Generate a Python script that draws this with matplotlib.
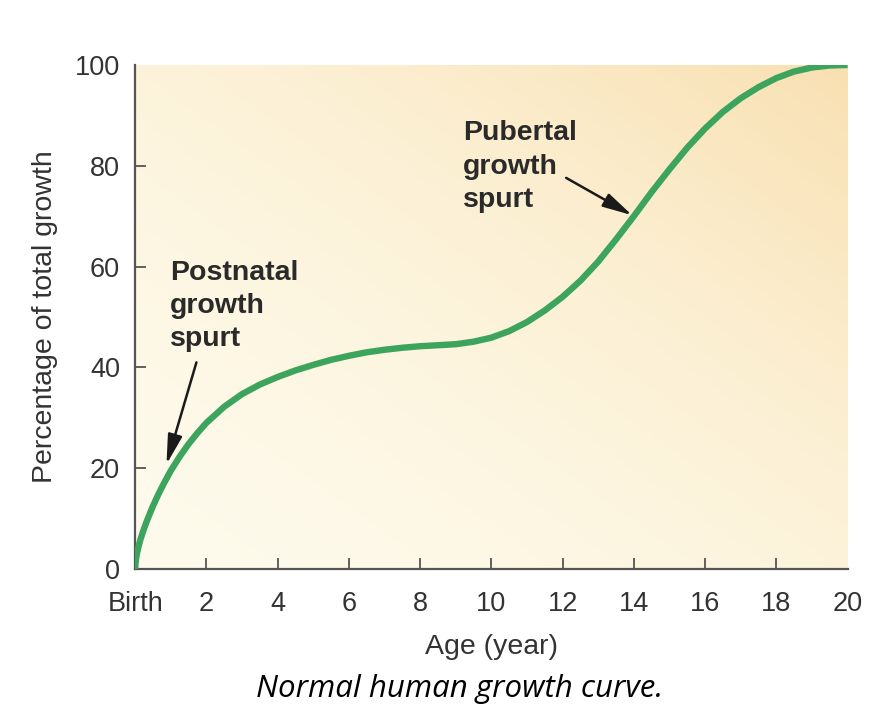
import numpy as np
import matplotlib.pyplot as plt
from matplotlib.colors import LinearSegmentedColormap

# Curve values (age in years, percent of total growth)
age = [0, 0.01, 0.03, 0.06, 0.1, 0.15, 0.2, 0.3, 0.4, 0.5, 0.65, 0.8, 1.0,
       1.25, 1.5, 1.75, 2.0, 2.5, 3.0, 3.5, 4.0, 4.5, 5.0, 5.5, 6.0, 6.5,
       7.0, 7.5, 8.0, 8.5, 9.0, 9.5, 10.0, 10.5, 11.0, 11.5, 12.0, 12.5,
       13.0, 13.5, 14.0, 14.5, 15.0, 15.5, 16.0, 16.5, 17.0, 17.5, 18.0,
       18.5, 19.0, 19.5, 20.0]
growth = [0, 1.2, 2.3, 3.4, 4.6, 5.9, 7.0, 9.0, 10.8, 12.5, 14.8, 16.9, 19.5,
          22.3, 24.8, 27.0, 29.0, 32.2, 34.7, 36.6, 38.1, 39.4, 40.5, 41.5,
          42.3, 43.0, 43.5, 43.9, 44.2, 44.4, 44.6, 45.1, 45.9, 47.2, 49.0,
          51.3, 54.0, 57.2, 61.0, 65.4, 70.0, 74.8, 79.3, 83.6, 87.4, 90.7,
          93.4, 95.6, 97.4, 98.7, 99.5, 99.9, 100]

xticks = [0, 2, 4, 6, 8, 10, 12, 14, 16, 18, 20]
xtick_labels = ['Birth', '2', '4', '6', '8', '10', '12', '14', '16', '18', '20']
yticks = [0, 20, 40, 60, 80, 100]

plt.rcParams['font.family'] = ['Liberation Sans', 'DejaVu Sans']

fig = plt.figure(figsize=(8.72, 7.18), dpi=100)
ax = fig.add_axes([0.155, 0.2075, 0.817, 0.702])

# diagonal cream-to-tan background
cmap = LinearSegmentedColormap.from_list('bg', ['#fefbed', '#fcf1d6', '#f9e0b2'])
u = np.linspace(0, 1, 300)
U, V = np.meshgrid(u, u)
grad = np.clip(((U + V) / 2) ** 1.3, 0, 1)
ax.imshow(grad, cmap=cmap, extent=[0, 20, 0, 100], origin='lower',
          aspect='auto', zorder=0, vmin=0, vmax=1)

ax.plot(age, growth, color='#3ca45c', lw=4.6, solid_capstyle='butt',
        solid_joinstyle='round', zorder=3)

ax.set_xlim(0, 20)
ax.set_ylim(0, 100)
ax.set_xticks(xticks)
ax.set_xticklabels(xtick_labels)
ax.set_yticks(yticks)

for s in ['top', 'right']:
    ax.spines[s].set_visible(False)
for s in ['left', 'bottom']:
    ax.spines[s].set_color('#555555')
    ax.spines[s].set_linewidth(1.6)

ax.tick_params(direction='in', length=8, width=1.3, color='#555555',
               labelsize=19.5, labelcolor='#333333')
ax.tick_params(axis='x', pad=16)
ax.tick_params(axis='y', pad=11)
# hide tick marks at the corners / ends
xt = ax.xaxis.get_major_ticks()
xt[0].tick1line.set_visible(False)
xt[-1].tick1line.set_visible(False)
yt = ax.yaxis.get_major_ticks()
yt[0].tick1line.set_visible(False)
yt[-1].tick1line.set_visible(False)

ax.set_xlabel('Age (year)', fontsize=20.5, color='#333333', labelpad=12)
ax.set_ylabel('Percentage of total growth', fontsize=20.5, color='#333333', labelpad=12)

arrow_kw = dict(arrowstyle='-|>,head_length=0.9,head_width=0.22', color='#1a1a1a',
                lw=1.8, mutation_scale=20, shrinkA=0, shrinkB=0)

ax.text(0.98, 61.3, 'Postnatal\ngrowth\nspurt', fontsize=20.5, fontweight='bold',
        color='#2a2a2a', va='top', ha='left', linespacing=1.36, zorder=4)
ax.annotate('', xy=(0.88, 20.8), xytext=(1.72, 41.0), arrowprops=arrow_kw, zorder=4)

ax.text(9.2, 89.0, 'Pubertal\ngrowth\nspurt', fontsize=20.5, fontweight='bold',
        color='#2a2a2a', va='top', ha='left', linespacing=1.36, zorder=4)
ax.annotate('', xy=(13.95, 70.2), xytext=(12.1, 77.6), arrowprops=arrow_kw, zorder=4)

fig.text(0.527, 0.040, 'Normal human growth curve.', fontsize=22.5, style='italic',
         family='Open Sans', color='black', ha='center', va='center')

fig.savefig('out.png', dpi=100)
